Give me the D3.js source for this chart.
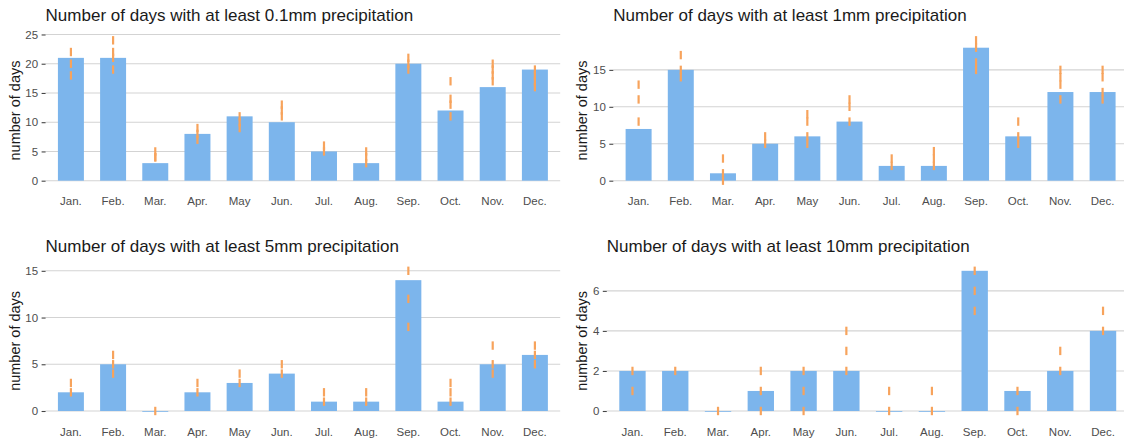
<!DOCTYPE html>
<html><head><meta charset="utf-8">
<script src="https://cdn.jsdelivr.net/npm/d3@7"></script>
<style>body{margin:0;background:#fff;overflow:hidden} svg{display:block} text{font-family:"Liberation Sans",Arial,sans-serif}</style>
</head><body><svg id="c" width="1124" height="439"></svg>
<script>
const months = ["Jan.","Feb.","Mar.","Apr.","May","Jun.","Jul.","Aug.","Sep.","Oct.","Nov.","Dec."];
const titles = ["Number of days with at least 0.1mm precipitation","Number of days with at least 1mm precipitation","Number of days with at least 5mm precipitation","Number of days with at least 10mm precipitation"];
const yTitle = "number of days";

// bar values
const bars01 = [21,21,3,8,11,10,5,3,20,12,16,19];
const bars1  = [7,15,1,5,6,8,2,2,18,6,12,12];
const bars5  = [2,5,0,2,3,4,1,1,14,1,5,6];
const bars10 = [2,2,0,1,2,2,0,0,7,1,2,4];

// orange marker values per month
const marks01 = [[22,20,18],[24,22,21,19],[5,4,4],[9,8,7],[11,10,9],[13,12,11],[6,5],[5,4,3],[21,20,19],[17,14,13,11],[20,19,18,17],[19,18,17,16]];
const marks1  = [[13,11,8],[17,15,14],[3,1,0],[6,5],[9,8,6,5],[11,10,8],[3,2],[4,3,2],[19,18,16,15],[8,6,5],[15,14,13,11],[15,14,12,11]];
const marks5  = [[3,2],[6,5,4],[0],[3,2],[4,3],[5,4],[2,1],[2,1],[15,12,9],[3,2,1],[7,5,4],[7,6,5]];
const marks10 = [[2,1],[2],[0],[2,1,0],[2,1,0],[4,3,2],[1,0],[1,0],[7,6,5],[1,0],[3,2],[5,4]];

// y tick values
const ticks01 = [0,5,10,15,20,25];
const ticks1  = [0,5,10,15];
const ticks5  = [0,5,10,15];
const ticks10 = [0,2,4,6];

const panels = [
  {title:titles[0], bars:bars01, marks:marks01, ticks:ticks01, left:45.6, right:560.2, top:33.3, bottom:187.7, ytx:15, tty:20.5},
  {title:titles[1], bars:bars1,  marks:marks1,  ticks:ticks1,  left:613.3, right:1127.9, top:33.3, bottom:187.7, ytx:582, tty:20.5},
  {title:titles[2], bars:bars5,  marks:marks5,  ticks:ticks5,  left:45.6, right:560.2, top:263.8, bottom:418, ytx:15, tty:251.5},
  {title:titles[3], bars:bars10, marks:marks10, ticks:ticks10, left:606.8, right:1128.7, top:263.8, bottom:418, ytx:582, tty:251.5}
];

const svg = d3.select("#c");
panels.forEach(p => {
  const g = svg.append("g");
  const maxV = d3.max([d3.max(p.bars), d3.max(p.marks.flat())]);
  const minV = Math.min(0, d3.min(p.marks.flat()));
  const pad = (maxV - minV) * 0.05;
  const y = d3.scaleLinear().domain([minV - pad, maxV + pad]).range([p.bottom, p.top]);
  const x = d3.scaleBand().domain(months).range([p.left, p.right]).paddingInner(0.384).paddingOuter(0.292);

  // gridlines
  g.append("g").selectAll("line").data(p.ticks).join("line")
    .attr("x1", p.left).attr("x2", p.right)
    .attr("y1", d => y(d)).attr("y2", d => y(d))
    .attr("stroke", "#d3d3d3").attr("stroke-width", 1.1);

  // y axis (ticks + labels)
  const ya = d3.axisLeft(y).tickValues(p.ticks).tickSize(4).tickPadding(3.5);
  const yg = g.append("g").attr("transform", `translate(${p.left},0)`).call(ya);
  yg.select(".domain").remove();
  yg.selectAll(".tick line").attr("stroke", "#444").attr("stroke-width", 1.1);
  yg.selectAll(".tick text").attr("fill", "#4d4d4d").style("font-size", "11.5px").style("font-family", '"Liberation Sans",Arial,sans-serif');

  // x axis labels
  const xa = d3.axisBottom(x).tickSize(0).tickPadding(9.5);
  const xg = g.append("g").attr("transform", `translate(0,${p.bottom})`).call(xa);
  xg.select(".domain").remove();
  xg.selectAll(".tick text").attr("fill", "#4d4d4d").style("font-size", "11.5px").style("font-family", '"Liberation Sans",Arial,sans-serif');

  // bars
  g.append("g").selectAll("rect").data(p.bars).join("rect")
    .attr("x", (d, i) => x(months[i])).attr("width", x.bandwidth())
    .attr("y", d => Math.min(y(d), y(0))).attr("height", d => Math.max(Math.abs(y(0) - y(d)), 0.8))
    .attr("fill", "#7cb5ec");

  // markers
  const mk = [];
  p.marks.forEach((arr, i) => arr.forEach(v => mk.push({m: months[i], v})));
  g.append("g").selectAll("line").data(mk).join("line")
    .attr("x1", d => x(d.m) + x.bandwidth() / 2).attr("x2", d => x(d.m) + x.bandwidth() / 2)
    .attr("y1", d => y(d.v) - 4.2).attr("y2", d => y(d.v) + 4.2)
    .attr("stroke", "#f7a35c").attr("stroke-width", 2.2);

  // title
  g.append("text").attr("x", p.left).attr("y", p.tty).text(p.title)
    .attr("fill", "#1a1a1a").style("font-size", "17px");

  // y-axis title
  g.append("text").attr("transform", `translate(${p.ytx},${(p.top + p.bottom) / 2}) rotate(-90)`)
    .attr("text-anchor", "middle").attr("dominant-baseline", "central")
    .text(yTitle).attr("fill", "#1a1a1a").style("font-size", "14.5px");
});
</script></body></html>
